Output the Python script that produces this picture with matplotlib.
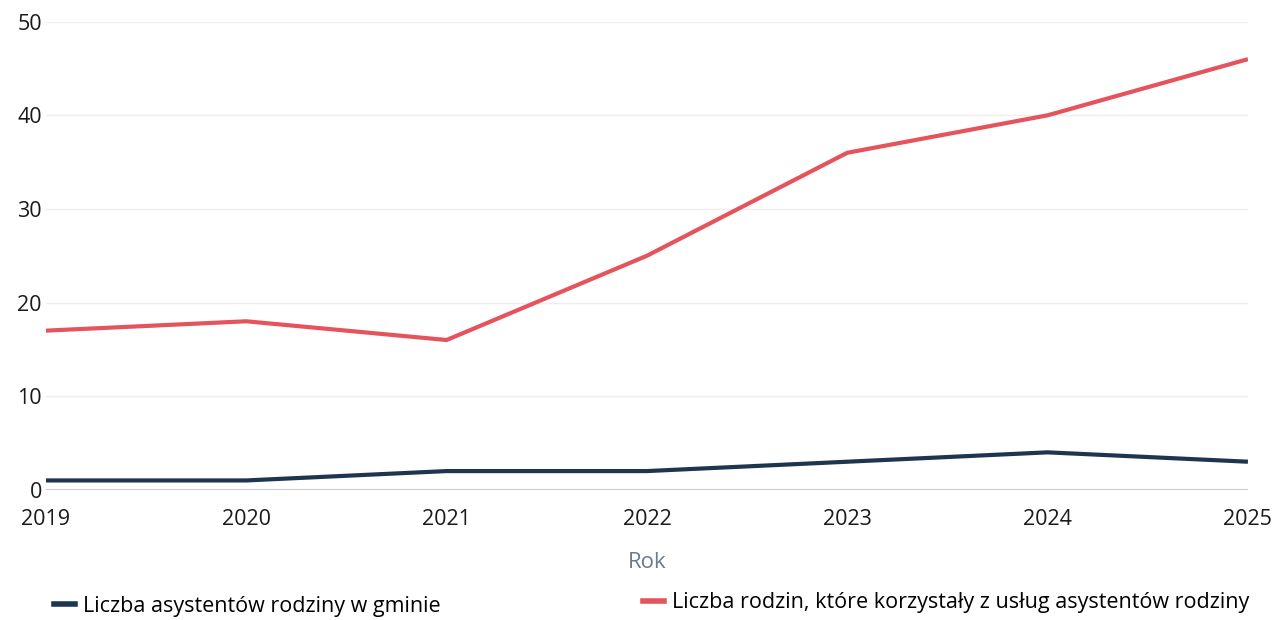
import matplotlib
matplotlib.use("Agg")
import matplotlib.pyplot as plt

years = [2019, 2020, 2021, 2022, 2023, 2024, 2025]
asystenci = [1, 1, 2, 2, 3, 4, 3]
rodziny = [17, 18, 16, 25, 36, 40, 46]
yticks = [0, 10, 20, 30, 40, 50]

label_a = "Liczba asystentów rodziny w gminie"
label_r = "Liczba rodzin, które korzystały z usług asystentów rodziny"

plt.rcParams['font.family'] = ['Open Sans', 'DejaVu Sans']

fig = plt.figure(figsize=(12.76, 6.2), dpi=100)
ax = fig.add_axes([0.036, 0.21, 0.942, 0.755])

ax.plot(years, asystenci, color="#1e3550", lw=3.0, solid_capstyle='butt', zorder=3)
ax.plot(years, rodziny, color="#e5535c", lw=3.0, solid_capstyle='butt', zorder=3)

ax.set_xlim(years[0], years[-1])
ax.set_ylim(0, 50)
ax.set_yticks(yticks)
ax.set_xticks(years)
ax.set_xticklabels([str(y) for y in years])
ax.tick_params(axis='both', length=0, labelsize=15.5, colors="#1a1a1a")
ax.tick_params(axis='x', pad=14)
ax.tick_params(axis='y', pad=3)
for s in ax.spines.values():
    s.set_visible(False)
ax.grid(axis='y', color="#eeeeee", lw=1)
ax.axhline(0, color="#cccccc", lw=1.5, zorder=2)

ax.set_xlabel("Rok", fontsize=16, color="#6b7a90", labelpad=16)

h1, = ax.plot([], [], color="#1e3550", lw=4)
h2, = ax.plot([], [], color="#e5535c", lw=4)
fig.legend([h1], [label_a], loc='center left', bbox_to_anchor=(0.027, 0.022),
           frameon=False, fontsize=15.5, handlelength=1.0, handletextpad=0.35)
fig.legend([h2], [label_r], loc='center right', bbox_to_anchor=(0.994, 0.028),
           frameon=False, fontsize=15.5, handlelength=1.0, handletextpad=0.35)

fig.savefig("out.png", dpi=100, facecolor="white")
